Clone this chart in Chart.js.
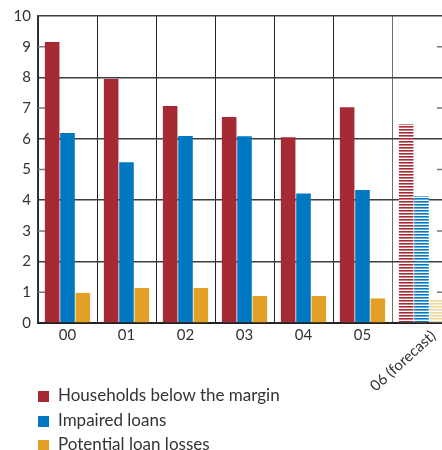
<!DOCTYPE html>
<html>
<head>
<meta charset="utf-8">
<script src="https://cdn.jsdelivr.net/npm/chart.js@4"></script>
<style>
	html, body { margin: 0; padding: 0; background: #fff; width: 442px; height: 450px; overflow: hidden; }
	#wrap { position: relative; width: 442px; height: 450px; overflow: hidden; }
	#myChart { position: absolute; left: 0; top: 0; }
	#legend { position: absolute; left: 38px; top: 383px; font-family: Lato, sans-serif; font-size: 17px; color: #333; }
	#legend div { height: 24.5px; line-height: 24.5px; white-space: nowrap; }
	#legend span { display: inline-block; width: 11px; height: 11px; margin-right: 9px; vertical-align: -1px; }
</style>
</head>
<body>
<div id="wrap">
	<canvas id="myChart" width="460" height="450"></canvas>
	<div id="legend"></div>
</div>
<script>
var categories = ["00", "01", "02", "03", "04", "05", "06 (forecast)"];
var seriesNames = ["Households below the margin", "Impaired loans", "Potential loan losses"];
var households = [9.15, 7.95, 7.07, 6.71, 6.05, 7.03, 6.48];
var impaired = [6.19, 5.24, 6.09, 6.08, 4.22, 4.33, 4.14];
var losses = [0.98, 1.14, 1.14, 0.88, 0.88, 0.80, 0.78];
var yTicks = [0, 1, 2, 3, 4, 5, 6, 7, 8, 9, 10];

var colors = ["#A62A33", "#0078C1", "#E3A026"];
var forecastColors = ["#A62A33", "#0078C1", "#F3D49B"];
var forecastIndex = 6;

// horizontal stripes for the forecast bars
function stripes(color) {
	var c = document.createElement("canvas");
	c.width = 4;
	c.height = 3;
	var cx = c.getContext("2d");
	cx.fillStyle = "#fff";
	cx.fillRect(0, 0, 4, 3);
	cx.fillStyle = color;
	cx.fillRect(0, 0, 4, 1);
	cx.globalAlpha = 0.6;
	cx.fillRect(0, 1, 4, 1);
	return document.getElementById("myChart").getContext("2d").createPattern(c, "repeat");
}

function barColors(i) {
	var list = [];
	for (var k = 0; k < categories.length; k++) {
		list.push(k == forecastIndex ? stripes(forecastColors[i]) : colors[i]);
	}
	return list;
}

var oddTicks = {
	id: "oddTicks",
	beforeDatasetsDraw: function (chart) {
		var ctx = chart.ctx;
		var y = chart.scales.y;
		var area = chart.chartArea;
		ctx.save();
		ctx.strokeStyle = "#7a7a7a";
		ctx.lineWidth = 1.5;
		for (var i = 0; i < yTicks.length; i++) {
			if (yTicks[i] % 2 == 1) {
				var py = y.getPixelForValue(yTicks[i]);
				ctx.beginPath();
				ctx.moveTo(area.left, py);
				ctx.lineTo(area.left + 7, py);
				ctx.moveTo(area.right - 14, py);
				ctx.lineTo(area.right, py);
				ctx.stroke();
			}
		}
		ctx.restore();
	},
	afterDraw: function (chart) {
		var ctx = chart.ctx;
		var x = chart.scales.x;
		var px = x.getPixelForValue(forecastIndex);
		ctx.save();
		ctx.translate(px + 7, chart.chartArea.bottom + 5);
		ctx.rotate(-42 * Math.PI / 180);
		ctx.font = "15px Lato";
		ctx.fillStyle = "#333";
		ctx.textAlign = "right";
		ctx.textBaseline = "top";
		ctx.fillText(categories[forecastIndex], 0, 0);
		ctx.restore();
	}
};

var datasets = [];
var series = [households, impaired, losses];
for (var i = 0; i < series.length; i++) {
	datasets.push({
		label: seriesNames[i],
		data: series[i],
		backgroundColor: barColors(i),
		borderWidth: 0,
		barPercentage: 0.95,
		categoryPercentage: 0.78
	});
}

new Chart("myChart", {
	type: "bar",
	data: {
		labels: categories,
		datasets: datasets
	},
	plugins: [oddTicks],
	options: {
		responsive: false,
		animation: false,
		layout: { padding: { left: 0, top: 16, right: 9, bottom: 70 } },
		plugins: {
			legend: { display: false },
			tooltip: { enabled: false }
		},
		scales: {
			x: {
				afterFit: function (scale) { scale.height = 57; },
				grid: {
					offset: true,
					drawTicks: false,
					lineWidth: 1,
					color: function (c) { return c.index == forecastIndex ? "#6e6e6e" : "#222"; }
				},
				border: { color: "#222", width: 2 },
				ticks: {
					maxRotation: 0,
					autoSkip: false,
					padding: 3,
					color: "#333",
					font: { family: "Lato", size: 15 },
					callback: function (v, i) { return i == forecastIndex ? "" : categories[i]; }
				}
			},
			y: {
				min: 0,
				max: 10,
				afterFit: function (scale) { scale.width = 38; },
				afterBuildTicks: function (scale) {
					scale.ticks = yTicks.map(function (v) { return { value: v }; });
				},
				grid: {
					drawTicks: false,
					lineWidth: 1.5,
					color: function (c) { return c.tick && c.tick.value % 2 == 0 ? "#3d3d3d" : "rgba(0,0,0,0)"; }
				},
				border: { color: "#333", width: 1.5 },
				ticks: {
					padding: 7,
					color: "#333",
					font: { family: "Lato", size: 15 }
				}
			}
		}
	}
});

var legend = document.getElementById("legend");
for (var j = 0; j < seriesNames.length; j++) {
	var row = document.createElement("div");
	var box = document.createElement("span");
	box.style.background = colors[j];
	row.appendChild(box);
	row.appendChild(document.createTextNode(seriesNames[j]));
	legend.appendChild(row);
}
</script>
</body>
</html>
